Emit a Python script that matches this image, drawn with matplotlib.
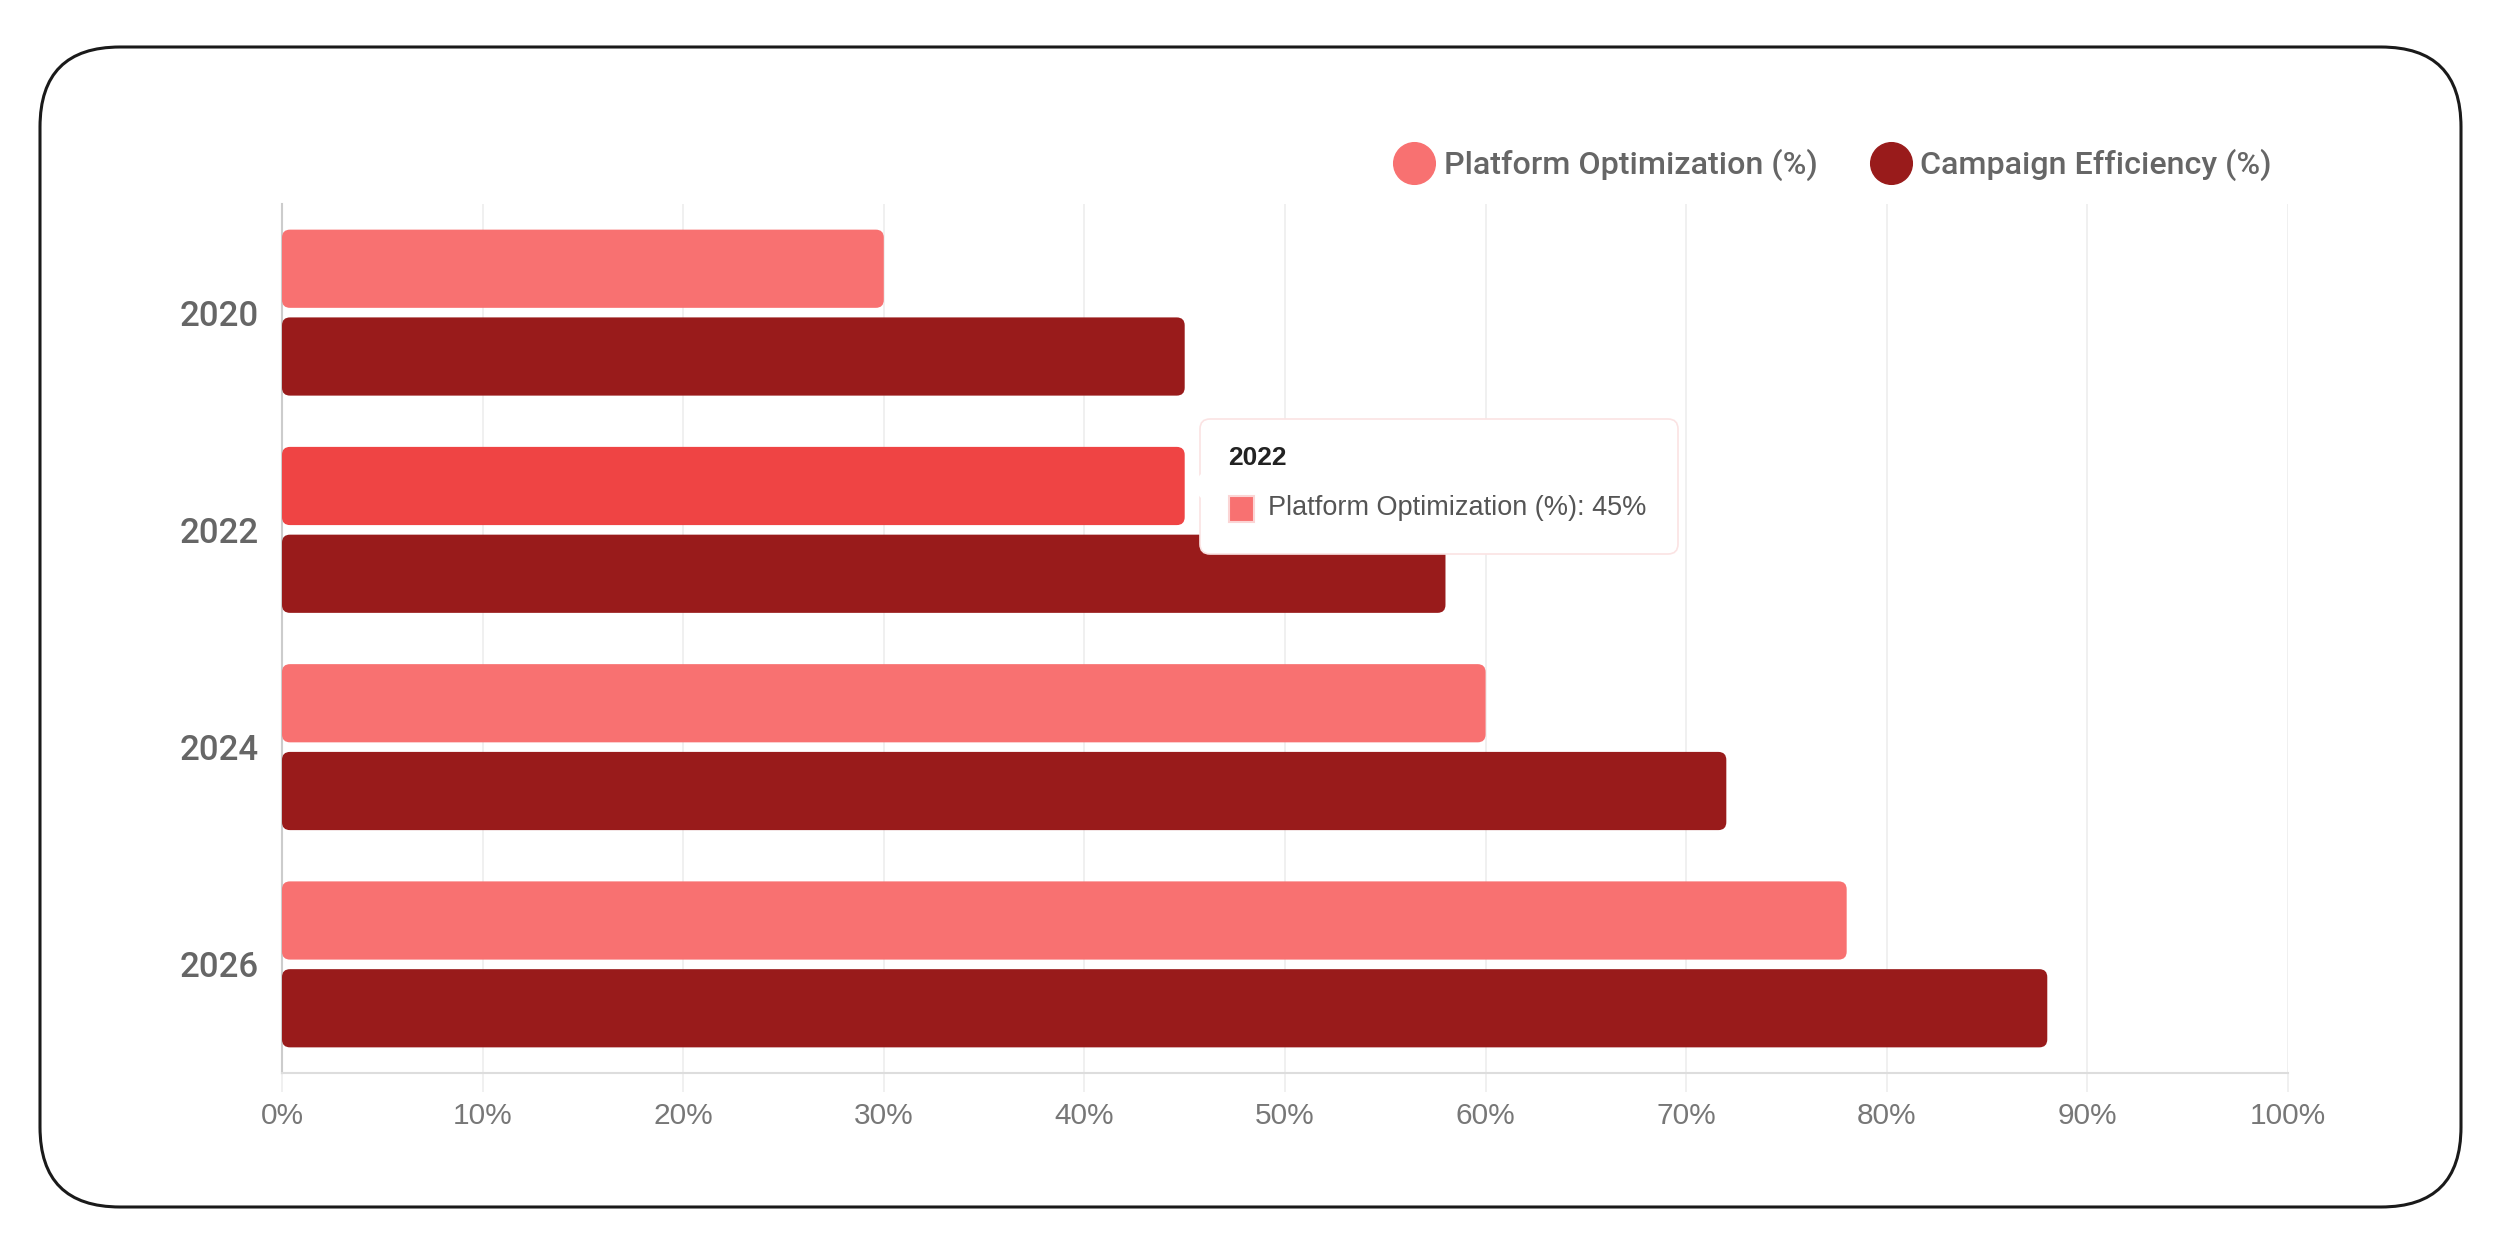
import matplotlib.pyplot as plt
from matplotlib.patches import FancyBboxPatch, Polygon
from matplotlib.lines import Line2D

# chart data
years = ['2020', '2022', '2024', '2026']
platform = [30, 45, 60, 78]
campaign = [45, 58, 72, 88]
x_ticks = list(range(0, 101, 10))
hover_index = 1  # 2022 bar is highlighted with a tooltip

LIGHT = '#F87171'
HOVER = '#EF4444'
DARK = '#991B1B'

W, H = 2497, 1240
fig = plt.figure(figsize=(W / 100, H / 100), dpi=100)
fig.patch.set_facecolor('white')

# rounded card border
r = 80 / W
fig.add_artist(FancyBboxPatch((40 / W, 33 / H), 2421 / W, 1160 / H,
                              boxstyle=f'round,pad=0,rounding_size={r}',
                              mutation_aspect=W / H, transform=fig.transFigure,
                              facecolor='none', edgecolor='#1a1a1a', linewidth=2.2))

ax = fig.add_axes([282 / W, 1 - 1073 / H, 2006 / W, 869 / H])
ax.set_facecolor('none')

bar_h = 0.36
off = 0.202
ypos = list(range(len(years)))
light_colors = [HOVER if i == hover_index else LIGHT for i in ypos]

bars_a = ax.barh([y - off for y in ypos], platform, height=bar_h, color=light_colors, zorder=3)
bars_b = ax.barh([y + off for y in ypos], campaign, height=bar_h, color=DARK, zorder=3)

# swap plain rectangles for ones with rounded ends
px_x = 100 / 2006
px_y = 4 / 869
for rect in list(bars_a) + list(bars_b):
    x0, y0 = rect.get_x(), rect.get_y()
    w, h = rect.get_width(), rect.get_height()
    rounded = FancyBboxPatch((x0, y0), w, h,
                             boxstyle=f'round,pad=0,rounding_size={8 * px_x}',
                             mutation_aspect=px_y / px_x,
                             facecolor=rect.get_facecolor(), edgecolor='none', zorder=3)
    rect.set_visible(False)
    ax.add_patch(rounded)

ax.set_xlim(0, 100)
ax.set_ylim(3.5, -0.5)
ax.set_xticks(x_ticks)
ax.set_xticklabels([f'{t}%' for t in x_ticks], fontsize=21.5, color='#777777',
                   family='Liberation Sans')
ax.set_yticks(ypos)
ax.set_yticklabels(years, fontsize=25, color='#666666', family='Roboto',
                   fontweight='medium')
ax.tick_params(axis='x', length=14, width=1.2, color='#eeeeee', pad=7)
ax.tick_params(axis='y', length=0, pad=17)
ax.grid(axis='x', color='#eeeeee', linewidth=1.2, zorder=0)
ax.set_axisbelow(True)
for s in ['top', 'right']:
    ax.spines[s].set_visible(False)
ax.spines['left'].set_color('#cccccc')
ax.spines['left'].set_linewidth(1.5)
ax.spines['bottom'].set_color('#dddddd')
ax.spines['bottom'].set_linewidth(1.5)

# legend with round markers
handles = [Line2D([], [], marker='o', linestyle='none', markersize=30,
                  markerfacecolor=LIGHT, markeredgecolor=LIGHT),
           Line2D([], [], marker='o', linestyle='none', markersize=30,
                  markerfacecolor=DARK, markeredgecolor=DARK)]
leg = fig.legend(handles, ['Platform Optimization (%)', 'Campaign Efficiency (%)'],
                 loc='center right', bbox_to_anchor=(2272 / W, 1 - 165 / H),
                 ncol=2, frameon=False, handletextpad=0.4, columnspacing=1.75,
                 handlelength=1.05, borderaxespad=0, borderpad=0,
                 prop={'family': 'Roboto', 'size': 23.2, 'weight': 'medium'})
for t in leg.get_texts():
    t.set_color('#666666')

# tooltip for the hovered bar
tx0, ty0, tw, th = 1200, 419, 478, 135
fig.add_artist(FancyBboxPatch((tx0 / W, 1 - (ty0 + th) / H), tw / W, th / H,
                              boxstyle=f'round,pad=0,rounding_size={10 / W}',
                              mutation_aspect=W / H, transform=fig.transFigure,
                              facecolor='white', edgecolor='#fbe3e3', linewidth=1.2, zorder=10))
fig.add_artist(Polygon([[(tx0 + 1) / W, 1 - 474 / H], [(tx0 - 10) / W, 1 - 486 / H],
                        [(tx0 + 1) / W, 1 - 498 / H]], closed=True, transform=fig.transFigure,
                       facecolor='white', edgecolor='none', zorder=11))
fig.text(1228 / W, 1 - 458 / H, years[hover_index], fontsize=19, fontweight='bold',
         color='#222222', family='Liberation Sans', va='center', ha='left', zorder=12)
fig.add_artist(FancyBboxPatch((1229 / W, 1 - 522 / H), 25 / W, 26 / H,
                              boxstyle='square,pad=0', transform=fig.transFigure,
                              facecolor=LIGHT, edgecolor='#fbd5d5', linewidth=1.5, zorder=12))
fig.text(1268 / W, 1 - 508 / H, f'Platform Optimization (%): {platform[hover_index]}%',
         fontsize=19.5, color='#555555', family='Liberation Sans', va='center', ha='left', zorder=12)

fig.savefig('out.png', dpi=100)
